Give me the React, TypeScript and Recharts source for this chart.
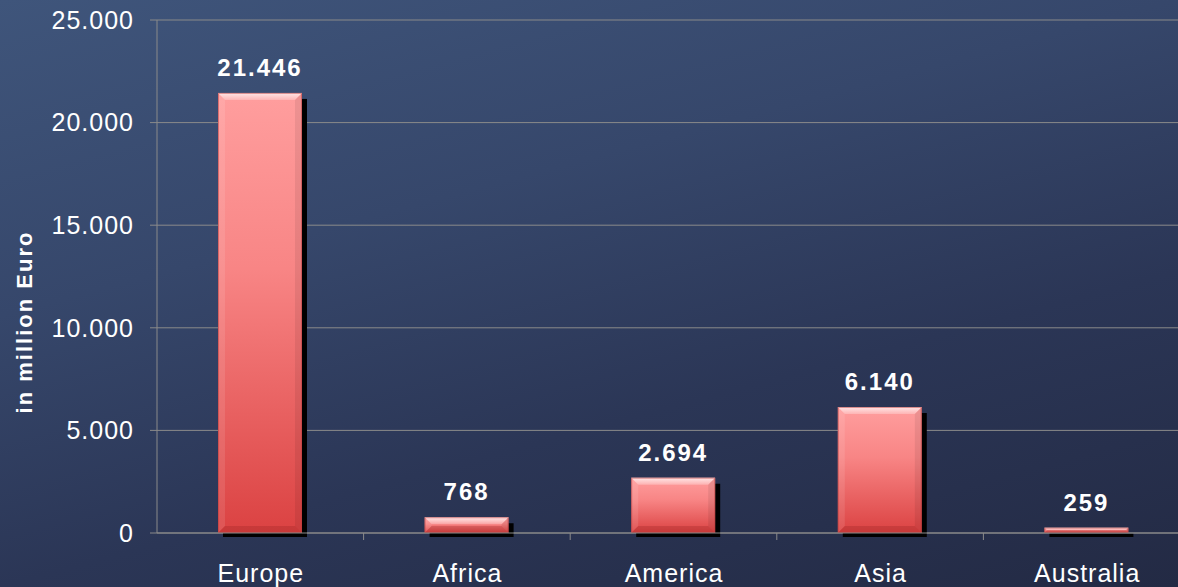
import { Bar, BarChart, CartesianGrid, Label, LabelList, XAxis, YAxis } from "recharts";

const regions = ["Europe", "Africa", "America", "Asia", "Australia"];
const revenue = [21446, 768, 2694, 6140, 259];
const yTicks = [0, 5000, 10000, 15000, 20000, 25000];

const data = regions.map((name, i) => ({ name, value: revenue[i] }));

const FONT = "'Liberation Sans', Arial, sans-serif";
const GRID = "#8a8a8a";

// 21446 -> "21.446"
function fmt(v: number) {
	return String(Math.round(v)).replace(/\B(?=(\d{3})+(?!\d))/g, ".");
}

function BevelBar(props: any) {
	const { x, y, width, height } = props;
	if (!height || height <= 0) return null;
	const w = width;
	const h = height;
	const b = Math.min(7, h / 2);
	return (
		<g>
			<rect x={x + 5} y={y + 6} width={w} height={h - 2} fill="#000" />
			<rect x={x} y={y} width={w} height={h} fill="url(#barGrad)" />
			<polygon
				points={`${x},${y} ${x + w},${y} ${x + w - b},${y + b} ${x + b},${y + b}`}
				fill="url(#topBevel)"
			/>
			<polygon
				points={`${x},${y} ${x + b},${y + b} ${x + b},${y + h - b} ${x},${y + h}`}
				fill="#fff"
				fillOpacity={0.1}
			/>
			<polygon
				points={`${x + w},${y} ${x + w - b},${y + b} ${x + w - b},${y + h - b} ${x + w},${y + h}`}
				fill="#000"
				fillOpacity={0.07}
			/>
			<polygon
				points={`${x},${y + h} ${x + b},${y + h - b} ${x + w - b},${y + h - b} ${x + w},${y + h}`}
				fill="#8a1c1c"
				fillOpacity={0.25}
			/>
			<rect
				x={x + 0.5}
				y={y + 0.5}
				width={w - 1}
				height={Math.max(h - 1, 0)}
				fill="none"
				stroke="#b83a3a"
				strokeOpacity={0.5}
			/>
		</g>
	);
}

function CategoryTick(props: any) {
	const { x, y, payload, index } = props;
	const half = payload?.offset ?? 103.3;
	return (
		<g>
			<text
				x={x + 0.5}
				y={y + 49}
				textAnchor="middle"
				fill="#fff"
				fontSize={25}
				letterSpacing={1}
				fontFamily={FONT}
			>
				{payload.value}
			</text>
			{index < regions.length - 1 && (
				<line x1={x + half} x2={x + half} y1={y} y2={y + 7} stroke={GRID} />
			)}
		</g>
	);
}

export default function App() {
	return (
		<div
			style={{
				position: "absolute",
				left: 0,
				top: 0,
				width: 1178,
				height: 587,
				overflow: "hidden",
				background:
					"linear-gradient(165deg, #3f557b 0%, #36476b 35%, #2b3656 65%, #232a44 100%)",
			}}
		>
			<style>{"body{margin:0}"}</style>
			<BarChart
				width={1190}
				height={587}
				data={data}
				margin={{ top: 20, right: 0, bottom: 0, left: 0 }}
			>
				<defs>
					<linearGradient id="barGrad" x1="0" y1="0" x2="0" y2="1">
						<stop offset="0%" stopColor="#ff9e9e" />
						<stop offset="40%" stopColor="#f88585" />
						<stop offset="100%" stopColor="#db4242" />
					</linearGradient>
					<linearGradient id="topBevel" x1="0" y1="0" x2="0" y2="1">
						<stop offset="0%" stopColor="#fff" stopOpacity={0.75} />
						<stop offset="100%" stopColor="#fff" stopOpacity={0.25} />
					</linearGradient>
				</defs>
				<CartesianGrid vertical={false} stroke={GRID} />
				<XAxis
					dataKey="name"
					height={54}
					axisLine={{ stroke: GRID }}
					tickLine={false}
					tickSize={0}
					tickMargin={0}
					tick={<CategoryTick />}
					interval={0}
				/>
				<YAxis
					width={157}
					domain={[0, 25000]}
					ticks={yTicks}
					interval={0}
					tickFormatter={fmt}
					axisLine={{ stroke: GRID }}
					tickLine={{ stroke: GRID }}
					tickSize={7}
					tickMargin={16}
					tick={{ fill: "#fff", fontSize: 25, letterSpacing: 1, fontFamily: FONT }}
				>
					<Label
						content={() => (
							<text
								x={32}
								y={322}
								transform="rotate(-90 32 322)"
								textAnchor="middle"
								fill="#fff"
								fontSize={22}
								fontWeight="bold"
								letterSpacing={2}
								fontFamily={FONT}
							>
								in million Euro
							</text>
						)}
					/>
				</YAxis>
				<Bar
					dataKey="value"
					barSize={84}
					shape={<BevelBar />}
					isAnimationActive={false}
				>
					<LabelList
						dataKey="value"
						position="top"
						offset={17}
						formatter={(v: any) => fmt(Number(v))}
						fill="#fff"
						fontSize={24}
						fontWeight="bold"
						letterSpacing={2}
						fontFamily={FONT}
					/>
				</Bar>
			</BarChart>
		</div>
	);
}
